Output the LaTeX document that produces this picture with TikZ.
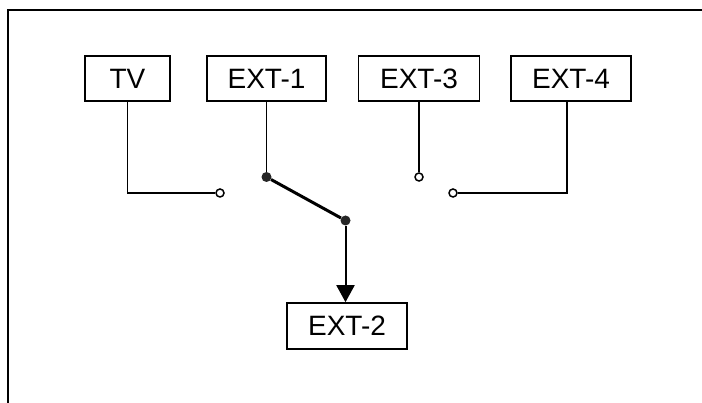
\documentclass[tikz,border=0pt]{standalone}
\usepackage{fontspec}
\setmainfont{Liberation Sans}
\usetikzlibrary{arrows.meta}

\begin{document}
\begin{tikzpicture}[x=1pt, y=-1pt, box/.style={rectangle, draw, line width=1.6pt, minimum height=45pt, inner sep=0pt, font=\fontsize{28}{32}\selectfont}, port/.style={circle, draw, fill=white, inner sep=0pt, minimum size=8pt, line width=1.5pt}, pivot/.style={circle, fill=black!85, inner sep=0pt, minimum size=10pt}, wire/.style={line width=1.6pt}]
  {
  \useasboundingbox (0,0) rectangle (702,403);
  \draw[line width=2pt] (8,403) |- (702,10.5);

  \node[box, minimum width=85pt] (tv) at (127.5,78.5) {TV};
  \node[box, minimum width=119pt] (ext1) at (266.5,78.5) {EXT-1};
  \node[box, minimum width=121pt] (ext3) at (419,78.5) {EXT-3};
  \node[box, minimum width=120pt] (ext4) at (571,78.5) {EXT-4};
  \node[box, minimum width=120pt, minimum height=46pt] (ext2) at (347,326) {EXT-2};

  \node[port] (tvin) at (220,193) {};
  \node[port] (ext3in) at (419,177) {};
  \node[port] (ext4in) at (453,193) {};
  \node[pivot] (com) at (266.5,177) {};
  \node[pivot] (blade) at (345.5,220.5) {};

  \draw[wire] (tv.south) |- (tvin);
  \draw[wire] (ext1.south) -- (com);
  \draw[wire] (ext3.south) -- (ext3in);
  \draw[wire] ([xshift=-4pt]ext4.south) |- (ext4in);
  \draw[line width=3pt] (com) -- (blade);
  \draw[line width=2pt, -{Triangle[width=18pt, length=17pt]}] (blade) -- (blade |- ext2.north);
}
\end{tikzpicture}
\end{document}
